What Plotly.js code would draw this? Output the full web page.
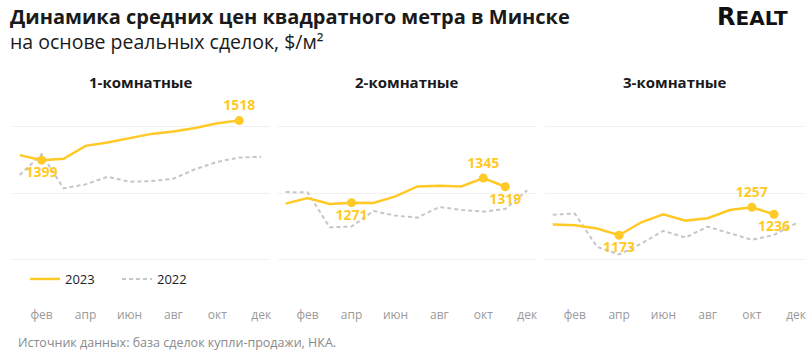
<!DOCTYPE html>
<html><head><meta charset="utf-8">
<script src="https://cdn.plot.ly/plotly-3.0.1.min.js"></script>
<style>html,body{margin:0;padding:0;background:#fff;}#chart{width:810px;height:356px;}</style>
</head><body><div id="chart"></div>
<script>
const months = [1,2,3,4,5,6,7,8,9,10,11,12];
const tickVals = [2,4,6,8,10,12];
const tickText = ['фев','апр','июн','авг','окт','дек'];
const panelTitles = ['1-комнатные','2-комнатные','3-комнатные'];

const y2023_1 = [1414,1399,1403,1442,1452,1464,1478,1485,1496,1510,1518];
const y2022_1 = [1354,1417,1314,1326,1349,1334,1336,1343,1372,1394,1407,1409];
const y2023_2 = [1268,1285,1267,1271,1270,1290,1320,1322,1320,1345,1319];
const y2022_2 = [1303,1302,1197,1199,1246,1232,1226,1258,1249,1244,1252,1308];
const y2023_3 = [1205,1203,1193,1173,1212,1236,1217,1224,1249,1257,1236];
const y2022_3 = [1235,1238,1138,1115,1148,1186,1166,1199,1179,1159,1174,1209];

// labelled points: month index and label position
const marks1 = [{i:1,pos:'bottom center'},{i:10,pos:'top center'}];
const marks2 = [{i:3,pos:'bottom center'},{i:9,pos:'top center'},{i:10,pos:'bottom center'}];
const marks3 = [{i:3,pos:'bottom center'},{i:9,pos:'top center'},{i:10,pos:'bottom center'}];

const YEL = '#FFC926';
const GRAY = '#c6c6c6';
const FONT = '"Open Sans", sans-serif';

const series = [[y2023_1,y2022_1,marks1],[y2023_2,y2022_2,marks2],[y2023_3,y2022_3,marks3]];
const traces = [];
series.forEach((s,k)=>{
  const xa = k===0?'x':'x'+(k+1), ya = k===0?'y':'y'+(k+1);
  traces.push({x:months.slice(0,s[1].length), y:s[1], xaxis:xa, yaxis:ya, mode:'lines', name:'2022',
    line:{color:GRAY,width:2,dash:'4px,3px'}, showlegend:k===0, legendrank:2});
  traces.push({x:months.slice(0,s[0].length), y:s[0], xaxis:xa, yaxis:ya, mode:'lines', name:'2023',
    line:{color:YEL,width:2.5}, showlegend:k===0, legendrank:1});
  traces.push({x:s[2].map(m=>months[m.i]), y:s[2].map(m=>s[0][m.i]), xaxis:xa, yaxis:ya,
    mode:'markers+text', text:s[2].map(m=>String(s[0][m.i])), textposition:s[2].map(m=>m.pos),
    textfont:{family:FONT,size:14,color:YEL,weight:700}, marker:{color:YEL,size:9}, showlegend:false, cliponaxis:false});
});

const doms = [[12/810,270/810],[278/810,536/810],[545/810,805/810]];
const layout = {
  width:810, height:356, margin:{l:0,r:0,t:0,b:0}, paper_bgcolor:'#fff', plot_bgcolor:'#fff',
  hovermode:false, font:{family:FONT,color:'#222'},
  legend:{orientation:'h', x:25/810, xanchor:'left', y:1-279/356, yanchor:'middle', bgcolor:'rgba(0,0,0,0)',
    font:{family:FONT,size:13,color:'#222'}, entrywidth:47, entrywidthmode:'pixels', traceorder:'normal'},
  annotations:[
    {xref:'paper',yref:'paper',x:8/810,y:1-17/356,xanchor:'left',yanchor:'middle',showarrow:false,
     text:'<b>Динамика средних цен квадратного метра в Минске</b>',font:{family:FONT,size:20,color:'#1a1a1a'}},
    {xref:'paper',yref:'paper',x:8/810,y:1-41/356,xanchor:'left',yanchor:'middle',showarrow:false,
     text:'на основе реальных сделок, $/м²',font:{family:FONT,size:19.5,color:'#1a1a1a'}},
    {xref:'paper',yref:'paper',x:790/810,y:1-17/356,xanchor:'right',yanchor:'middle',showarrow:false,
     text:'<b>R<span style="font-size:20px">EALT</span></b>',font:{family:'"DejaVu Sans", sans-serif',size:24,color:'#111'}},
    {xref:'paper',yref:'paper',x:16/810,y:1-342/356,xanchor:'left',yanchor:'middle',showarrow:false,
     text:'Источник данных: база сделок купли-продажи, НКА.',font:{family:FONT,size:12.5,color:'#8a8a8a'}}
  ]
};
doms.forEach((d,k)=>{
  const sx = k===0?'':String(k+1);
  layout['xaxis'+sx] = {domain:d, range:[0.65,12.4], tickvals:tickVals, ticktext:tickText, showgrid:false,
    zeroline:false, showline:false, ticks:'', tickfont:{family:FONT,size:12,color:'#9a9a9a'}, anchor:'y'+sx, fixedrange:true};
  layout['yaxis'+sx] = {domain:[1-306/356,1-100/356], range:[960,1580], tickvals:[1100,1300,1500], showticklabels:false,
    showgrid:true, gridcolor:'#f1f1f1', gridwidth:1, zeroline:false, showline:false, anchor:'x'+sx, fixedrange:true};
  layout.annotations.push({xref:'paper',yref:'paper',x:(d[0]+d[1])/2,y:1-82/356,xanchor:'center',yanchor:'middle',
    showarrow:false,text:'<b>'+panelTitles[k]+'</b>',font:{family:FONT,size:15,color:'#1a1a1a'}});
});
Plotly.newPlot('chart',traces,layout,{displayModeBar:false,staticPlot:true});
</script></body></html>
